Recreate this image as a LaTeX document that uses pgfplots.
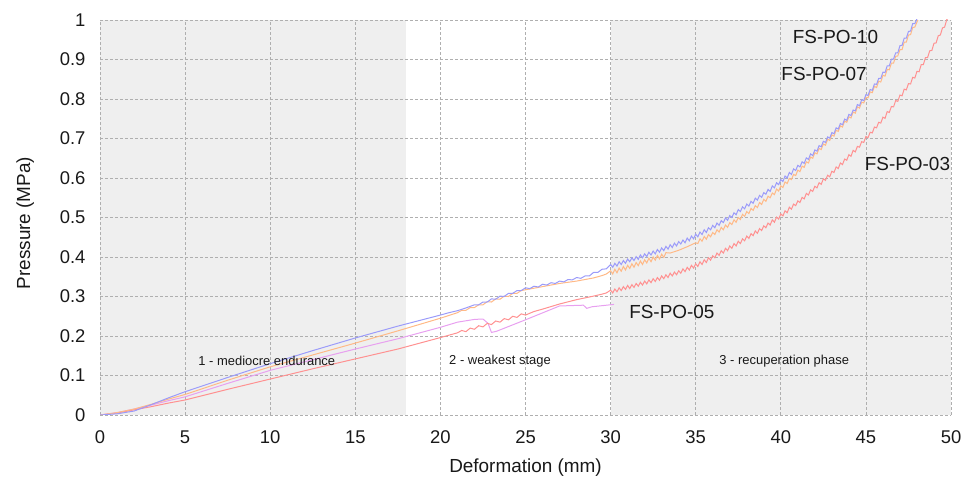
\documentclass[border=0pt]{standalone}
\usepackage{fontspec}
\setmainfont{Liberation Sans}
\usepackage{pgfplots}
\pgfplotsset{compat=1.18}

\definecolor{cblue}{RGB}{155,155,250}
\definecolor{corange}{RGB}{255,185,135}
\definecolor{cred}{RGB}{255,145,145}
\definecolor{cpink}{RGB}{232,160,240}
\definecolor{shade}{RGB}{239,239,239}
\definecolor{gridc}{RGB}{175,175,175}
\definecolor{txt}{RGB}{25,25,25}

\begin{document}
\begin{tikzpicture}
\begin{axis}[
  name=ax,
  set layers,
  scale only axis,
  width=851bp, height=395bp,
  xmin=0, xmax=50, ymin=0, ymax=1,
  xtick={0,5,10,15,20,25,30,35,40,45,50},
  ytick={0,0.1,0.2,0.3,0.4,0.5,0.6,0.7,0.8,0.9,1},
  axis line style={draw=none},
  tick style={draw=none},
  grid=major,
  grid style={gridc, dash pattern=on 3bp off 2bp, line width=0.7bp},
  /pgf/number format/assume math mode=true,
  tick label style={font=\fontsize{18.5}{21}\selectfont, text=txt},
  yticklabel style={xshift=-11bp},
  xticklabel style={yshift=-12bp},
  xlabel={Deformation (mm)},
  ylabel={Pressure (MPa)},
  every axis x label/.style={at={(axis description cs:0.5,-0.132)}, anchor=center,
    font=\fontsize{19}{22}\selectfont, text=txt},
  every axis y label/.style={at={(axis description cs:-0.088,0.486)}, anchor=center,
    rotate=90, font=\fontsize{19}{22}\selectfont, text=txt},
  every axis plot/.append style={line width=1bp},
]
% shaded stages
\addplot[draw=none, fill=shade, on layer=axis background, forget plot] coordinates {(0,1) (18,1)} \closedcycle;
\addplot[draw=none, fill=shade, on layer=axis background, forget plot] coordinates {(30,1) (50,1)} \closedcycle;

% FS-PO-05
\addplot[cpink] coordinates {
(0,0) (1,0.006) (2,0.015) (3,0.025) (4,0.036) (5,0.046) (7.5,0.080) (10,0.113)
(12.5,0.140) (15,0.167) (17.5,0.193) (20,0.222) (21,0.235) (22,0.242) (22.5,0.243)
(22.8,0.232) (23.0,0.209) (23.3,0.212) (25,0.241) (27,0.276) (28.4,0.278)
(28.6,0.270) (28.9,0.274) (30.2,0.280)
};

% FS-PO-03
\addplot[cred] coordinates {
(0,0) (1,0.005) (2,0.013) (3,0.021) (4,0.030) (5,0.038) (7.5,0.065) (10,0.091)
(12.5,0.117) (15,0.142) (17.5,0.167) (20,0.196) (21,0.208)
(21.25,0.214) (21.5,0.211) (21.75,0.220) (22,0.217) (22.25,0.226) (22.5,0.223)
(22.75,0.232) (23,0.229) (23.25,0.238) (23.5,0.235) (23.75,0.244) (24,0.241)
(24.25,0.250) (24.5,0.247) (24.75,0.256) (25,0.253)
(25.5,0.262) (26,0.268) (27,0.281) (28,0.292) (29,0.301) (29.5,0.306) (29.75,0.309)
(30,0.316) (30.125,0.309) (30.25,0.319) (30.375,0.312) (30.5,0.322) (30.625,0.315)
(30.75,0.325) (30.875,0.318) (31,0.328) (31.125,0.320) (31.25,0.330) (31.375,0.323)
(31.5,0.333) (31.625,0.326) (31.75,0.336) (31.875,0.329) (32,0.339) (32.125,0.332)
(32.25,0.342) (32.375,0.335) (32.5,0.345) (32.625,0.338) (32.75,0.348) (32.875,0.341)
(33,0.352) (33.125,0.345) (33.25,0.355) (33.375,0.348) (33.5,0.359) (33.625,0.352)
(33.75,0.362) (33.875,0.355) (34,0.365) (34.125,0.359) (34.25,0.370) (34.375,0.363)
(34.5,0.374) (34.625,0.367) (34.75,0.379) (34.875,0.372) (35,0.383) (35.125,0.376)
(35.25,0.388) (35.375,0.381) (35.5,0.393) (35.625,0.386) (35.75,0.398) (35.875,0.392)
(36,0.403) (36.125,0.398) (36.25,0.410) (36.375,0.404) (36.5,0.416) (36.625,0.410)
(36.75,0.422) (36.875,0.416) (37,0.428) (37.125,0.422) (37.25,0.434) (37.375,0.428)
(37.5,0.440) (37.625,0.434) (37.75,0.446) (37.875,0.441) (38,0.453) (38.125,0.447)
(38.25,0.459) (38.375,0.454) (38.5,0.466) (38.625,0.460) (38.75,0.472) (38.875,0.467)
(39,0.479) (39.125,0.474) (39.25,0.486) (39.375,0.481) (39.5,0.494) (39.625,0.488)
(39.75,0.501) (39.875,0.496) (40,0.509) (40.125,0.504) (40.25,0.517) (40.375,0.512)
(40.5,0.526) (40.625,0.521) (40.75,0.534) (40.875,0.530) (41,0.542) (41.125,0.538)
(41.25,0.551) (41.375,0.547) (41.5,0.561) (41.625,0.557) (41.75,0.570) (41.875,0.566)
(42,0.579) (42.125,0.575) (42.25,0.588) (42.375,0.584) (42.5,0.598) (42.625,0.594)
(42.75,0.607) (42.875,0.603) (43,0.617) (43.125,0.614) (43.25,0.628) (43.375,0.624)
(43.5,0.638) (43.625,0.634) (43.75,0.648) (43.875,0.645) (44,0.659) (44.125,0.655)
(44.25,0.670) (44.375,0.666) (44.5,0.680) (44.625,0.678) (44.75,0.692) (44.875,0.690)
(45,0.705) (45.125,0.702) (45.25,0.716) (45.375,0.714) (45.5,0.729) (45.625,0.727)
(45.75,0.741) (45.875,0.739) (46,0.754) (46.125,0.751) (46.25,0.768) (46.375,0.766)
(46.5,0.781) (46.625,0.780) (46.75,0.796) (46.875,0.794) (47,0.810) (47.125,0.808)
(47.25,0.825) (47.375,0.823) (47.5,0.839) (47.625,0.838) (47.75,0.855) (47.875,0.853)
(48,0.870) (48.125,0.869) (48.25,0.887) (48.375,0.887) (48.5,0.905) (48.625,0.905)
(48.75,0.922) (48.875,0.923) (49,0.941) (49.125,0.942) (49.25,0.960) (49.375,0.962)
(49.5,0.980) (49.625,0.982) (49.75,1.001) (49.875,1.007)
};

% FS-PO-07
\addplot[corange] coordinates {
(0,0) (1,0.006) (2,0.015) (3,0.027) (4,0.040) (5,0.052) (7.5,0.088) (10,0.122)
(12.5,0.152) (15,0.182) (17.5,0.213) (20,0.245) (21,0.259)
(21.25,0.265) (21.5,0.265) (21.75,0.272) (22,0.272) (22.25,0.279) (22.5,0.279)
(22.75,0.287) (23,0.286) (23.25,0.294) (23.5,0.293) (23.75,0.301) (24,0.300)
(24.25,0.308) (24.5,0.308) (24.75,0.315) (25,0.317)
(26,0.325) (27,0.333) (28,0.339) (28.5,0.343) (29,0.347) (29.5,0.353) (29.75,0.357)
(30,0.365) (30.125,0.357) (30.25,0.369) (30.375,0.360) (30.5,0.372) (30.625,0.364)
(30.75,0.376) (30.875,0.367) (31,0.379) (31.125,0.371) (31.25,0.383) (31.375,0.374)
(31.5,0.386) (31.625,0.378) (31.75,0.390) (31.875,0.381) (32,0.393) (32.125,0.385)
(32.25,0.397) (32.375,0.388) (32.5,0.400) (32.625,0.392) (32.75,0.404) (32.875,0.395)
(33,0.407) (33.125,0.399) (33.25,0.411)
(33.5,0.410) (34,0.417) (34.5,0.426) (35,0.436)
(35.125,0.434) (35.25,0.446) (35.375,0.440) (35.5,0.452) (35.625,0.445) (35.75,0.457)
(35.875,0.451) (36,0.462) (36.125,0.457) (36.25,0.469) (36.375,0.463) (36.5,0.475)
(36.625,0.469) (36.75,0.481) (36.875,0.475) (37,0.487) (37.125,0.482) (37.25,0.494)
(37.375,0.488) (37.5,0.500) (37.625,0.495) (37.75,0.508) (37.875,0.503) (38,0.515)
(38.125,0.510) (38.25,0.523) (38.375,0.518) (38.5,0.530) (38.625,0.525) (38.75,0.538)
(38.875,0.533) (39,0.546) (39.125,0.541) (39.25,0.554) (39.375,0.550) (39.5,0.562)
(39.625,0.558) (39.75,0.572) (39.875,0.567) (40,0.580) (40.125,0.576) (40.25,0.590)
(40.375,0.586) (40.5,0.599) (40.625,0.596) (40.75,0.609) (40.875,0.606) (41,0.620)
(41.125,0.616) (41.25,0.630) (41.375,0.627) (41.5,0.641) (41.625,0.638) (41.75,0.653)
(41.875,0.650) (42,0.664) (42.125,0.661) (42.25,0.675) (42.375,0.672) (42.5,0.686)
(42.625,0.683) (42.75,0.698) (42.875,0.695) (43,0.709) (43.125,0.706) (43.25,0.721)
(43.375,0.718) (43.5,0.732) (43.625,0.729) (43.75,0.744) (43.875,0.741) (44,0.755)
(44.125,0.752) (44.25,0.767) (44.375,0.764) (44.5,0.780) (44.625,0.777) (44.75,0.792)
(44.875,0.790) (45,0.804) (45.125,0.803) (45.25,0.818) (45.375,0.816) (45.5,0.832)
(45.625,0.829) (45.75,0.845) (45.875,0.843) (46,0.860) (46.125,0.858) (46.25,0.875)
(46.375,0.874) (46.5,0.891) (46.625,0.891) (46.75,0.908) (46.875,0.909) (47,0.925)
(47.125,0.925) (47.25,0.944) (47.375,0.944) (47.5,0.962) (47.625,0.963) (47.75,0.981)
(47.875,0.982) (48.05,1.000)
};

% FS-PO-10
\addplot[cblue] coordinates {
(0,0) (1,0.003) (2,0.010) (3,0.026) (4,0.043) (5,0.059) (7.5,0.095) (10,0.130)
(12.5,0.163) (15,0.195) (17.5,0.225) (20,0.253) (20.5,0.259) (21,0.264) (21.5,0.271)
(22,0.279) (22.25,0.279) (22.5,0.286) (22.75,0.286) (23,0.294) (23.25,0.293)
(23.5,0.301) (23.75,0.300) (24,0.308) (24.25,0.308) (24.5,0.315) (24.75,0.315)
(25,0.322) (25.25,0.320) (25.5,0.326) (25.75,0.324) (26,0.331) (26.25,0.329)
(26.5,0.335) (26.75,0.333) (27,0.339) (27.25,0.337) (27.5,0.343) (27.75,0.342)
(28,0.348) (28.25,0.346) (28.5,0.352) (28.75,0.352) (29,0.361) (29.25,0.361)
(29.5,0.369) (29.75,0.370)
(30,0.381) (30.125,0.374) (30.25,0.384) (30.375,0.377) (30.5,0.388) (30.625,0.381)
(30.75,0.391) (30.875,0.384) (31,0.395) (31.125,0.388) (31.25,0.398) (31.375,0.391)
(31.5,0.401) (31.625,0.394) (31.75,0.405) (31.875,0.398) (32,0.408) (32.125,0.401)
(32.25,0.412) (32.375,0.405) (32.5,0.415) (32.625,0.408) (32.75,0.419) (32.875,0.412)
(33,0.423) (33.125,0.416) (33.25,0.427) (33.375,0.420) (33.5,0.431) (33.625,0.424)
(33.75,0.435) (33.875,0.428) (34,0.439) (34.125,0.433) (34.25,0.443) (34.375,0.436)
(34.5,0.448) (34.625,0.441) (34.75,0.453) (34.875,0.446) (35,0.458) (35.125,0.451)
(35.25,0.463) (35.375,0.457) (35.5,0.469) (35.625,0.462) (35.75,0.474) (35.875,0.469)
(36,0.480) (36.125,0.474) (36.25,0.486) (36.375,0.480) (36.5,0.492) (36.625,0.487)
(36.75,0.499) (36.875,0.493) (37,0.505) (37.125,0.500) (37.25,0.512) (37.375,0.507)
(37.5,0.520) (37.625,0.515) (37.75,0.527) (37.875,0.522) (38,0.534) (38.125,0.529)
(38.25,0.541) (38.375,0.536) (38.5,0.549) (38.625,0.544) (38.75,0.556) (38.875,0.551)
(39,0.563) (39.125,0.559) (39.25,0.571) (39.375,0.566) (39.5,0.580) (39.625,0.575)
(39.75,0.588) (39.875,0.583) (40,0.596) (40.125,0.591) (40.25,0.605) (40.375,0.600)
(40.5,0.614) (40.625,0.609) (40.75,0.623) (40.875,0.619) (41,0.632) (41.125,0.628)
(41.25,0.641) (41.375,0.637) (41.5,0.651) (41.625,0.647) (41.75,0.661) (41.875,0.657)
(42,0.671) (42.125,0.668) (42.25,0.682) (42.375,0.679) (42.5,0.693) (42.625,0.690)
(42.75,0.704) (42.875,0.701) (43,0.715) (43.125,0.712) (43.25,0.727) (43.375,0.724)
(43.5,0.738) (43.625,0.735) (43.75,0.749) (43.875,0.746) (44,0.761) (44.125,0.758)
(44.25,0.772) (44.375,0.770) (44.5,0.786) (44.625,0.783) (44.75,0.798) (44.875,0.796)
(45,0.811) (45.125,0.809) (45.25,0.824) (45.375,0.822) (45.5,0.838) (45.625,0.837)
(45.75,0.852) (45.875,0.852) (46,0.868) (46.125,0.867) (46.25,0.884) (46.375,0.884)
(46.5,0.901) (46.625,0.901) (46.75,0.917) (46.875,0.917) (47,0.935) (47.125,0.936)
(47.25,0.954) (47.375,0.954) (47.5,0.971) (47.625,0.972) (47.75,0.991) (47.875,0.991)
(48,1.003)
};

% stage and curve labels
\begin{scope}[every node/.style={text=txt}]
\node[font=\fontsize{13}{15}\selectfont] at (axis cs:9.8,0.137) {1 - mediocre endurance};
\node[font=\fontsize{13}{15}\selectfont] at (axis cs:23.5,0.137) {2 - weakest stage};
\node[font=\fontsize{13}{15}\selectfont] at (axis cs:40.2,0.137) {3 - recuperation phase};
\node[font=\fontsize{19}{22}\selectfont] at (axis cs:43.21,0.957) {FS-PO-10};
\node[font=\fontsize{19}{22}\selectfont] at (axis cs:42.54,0.864) {FS-PO-07};
\node[font=\fontsize{19}{22}\selectfont] at (axis cs:47.44,0.636) {FS-PO-03};
\node[font=\fontsize{19}{22}\selectfont] at (axis cs:33.6,0.26) {FS-PO-05};
\end{scope}
\end{axis}
\path ([xshift=-100bp,yshift=-67bp]ax.south west) rectangle ([xshift=19bp,yshift=20bp]ax.north east);
\end{tikzpicture}
\end{document}
